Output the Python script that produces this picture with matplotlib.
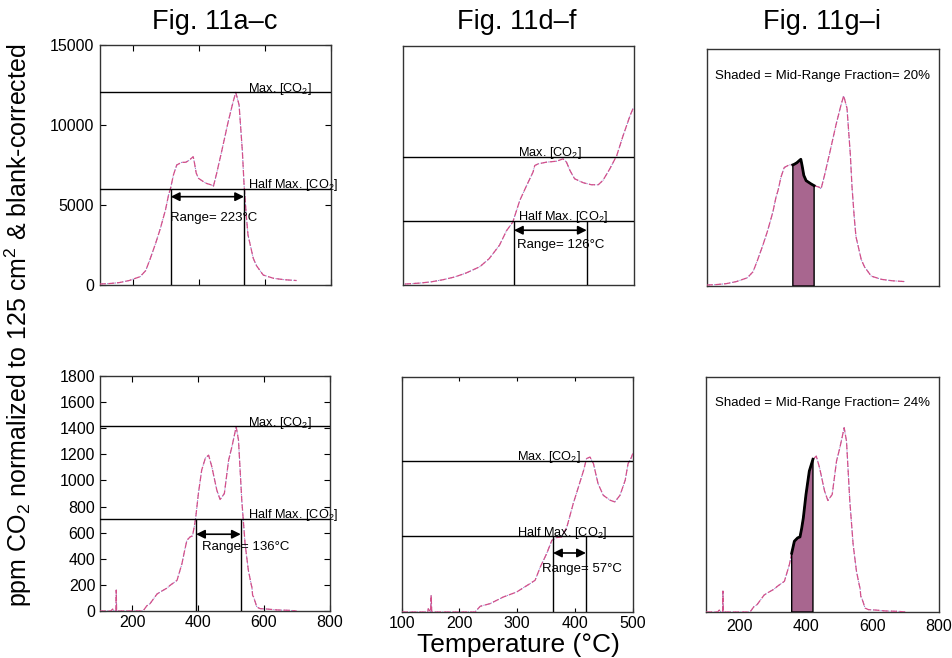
import numpy as np
import matplotlib
matplotlib.use("Agg")
import matplotlib.pyplot as plt

plt.rcParams['font.family'] = ['Liberation Sans', 'DejaVu Sans']
plt.rcParams['mathtext.fontset'] = 'custom'
plt.rcParams['mathtext.rm'] = 'Liberation Sans'
plt.rcParams['mathtext.it'] = 'Liberation Sans:italic'

# ---------------- data ----------------
# Sample of Fig. 11a-c / 11g (upper row, left & right)
temp_a = [100, 130, 160, 190, 223, 240, 253, 270, 284, 300, 309, 316, 324, 334, 349,
          360, 364, 372, 380, 384, 388, 393, 400, 415, 424, 440, 445, 455, 470, 490, 505,
          513, 523, 533, 538, 545, 550, 566, 576, 596, 627, 660, 697]
co2_a = [60, 90, 150, 280, 520, 900, 1600, 2600, 3500, 4700, 5600, 6100, 6875, 7500, 7667,
         7667, 7700, 7800, 7950, 8020, 7600, 7000, 6667, 6458, 6350, 6250, 6150, 6979, 8333, 10208, 11458,
         12040, 11250, 8333, 6300, 4300, 3125, 1667, 1200, 625, 420, 330, 280]

# Sample of Fig. 11d (upper row, middle)
temp_d = [104, 130, 150, 170, 190, 210, 234, 250, 268, 280, 291, 303, 315, 326, 329, 335,
          349, 367, 378, 384, 390, 398, 413, 427, 439, 447, 459, 471, 482, 494, 500]
co2_d = [60, 120, 200, 330, 500, 750, 1150, 1650, 2500, 3400, 3950, 5300, 6250, 7083, 7500, 7604,
         7708, 7771, 7917, 7708, 7187, 6667, 6417, 6292, 6292, 6562, 7292, 8125, 9375, 10625, 11146]

# Sample of Fig. 11b-c / 11h-i (lower row, left & right)
temp_b = [100, 135, 140, 145, 150, 151, 152, 160, 200, 229, 234, 244, 254, 275, 285, 305,
          315, 336, 351, 358, 366, 376, 383, 388, 393, 401, 411, 422, 432, 442, 457, 467,
          480, 493, 503, 516, 523, 533, 543, 553, 562, 564, 566, 569, 579, 589, 610, 640, 680, 700]
co2_b = [0, 0, 15, 0, 0, 160, 0, 0, 0, 0, 5, 40, 57, 130, 146, 175,
         197, 235, 363, 450, 542, 568, 575, 640, 720, 900, 1079, 1170, 1194, 1104, 926, 854,
         900, 1156, 1258, 1411, 1309, 849, 517, 312, 200, 180, 120, 107, 30, 18, 15, 8, 5, 0]

# Sample of Fig. 11e-f (lower row, middle)
temp_e = [100, 140, 145, 146, 150, 151, 152, 160, 200, 227, 236, 253, 276, 299, 322, 331,
          340, 351, 360, 368, 377, 386, 397, 406, 415, 420, 426, 432, 440, 449, 461, 469,
          478, 487, 492, 495, 498, 500]
co2_e = [0, 0, 0, 25, 0, 128, 0, 0, 0, 0, 44, 64, 115, 153, 217, 243,
         345, 447, 549, 570, 575, 651, 830, 957, 1085, 1175, 1187, 1137, 983, 894, 856, 843,
         894, 1009, 1137, 1160, 1187, 1213]

col_titles = ["Fig. 11a\u2013c", "Fig. 11d\u2013f", "Fig. 11g\u2013i"]

# Max / half max / range annotations
max_a, half_a, range_a = 12050, 6025, (316, 538)
max_d, half_d, range_d = 8050, 4025, (293, 419)
max_b, half_b, range_b = 1415, 707, (394, 530)
max_e, half_e, range_e = 1160, 580, (362, 419)
range_labels = ["Range= 223\u00b0C", "Range= 126\u00b0C", "Range= 136\u00b0C", "Range= 57\u00b0C"]

shade_top = (360, 424)
shade_bot = (358, 422)
shade_labels = ["Shaded = Mid-Range Fraction= 20%", "Shaded = Mid-Range Fraction= 24%"]

# ---------------- figure ----------------
W, H = 952, 658
fig = plt.figure(figsize=(W / 100, H / 100), dpi=100)


def ax_at(x0, y0, x1, y1):
    return fig.add_axes([x0 / W, 1 - y1 / H, (x1 - x0) / W, (y1 - y0) / H])


CURVE_PINK = '#d4508a'
CURVE_BLUE = '#7a7ad0'
FILL = '#a8668f'


def curve(ax, t, v):
    ax.plot(t, v, color=CURVE_BLUE, lw=0.7, ls=':', zorder=2)
    ax.plot(t, v, color=CURVE_PINK, lw=0.9, ls=(0, (5, 2)), zorder=3)


def frame(ax):
    for s in ax.spines.values():
        s.set_color('#333333')
        s.set_linewidth(1.0)


def annotate_range(ax, mx, half, rng, label, xtext, yarrow, xlab, ytext):
    ax.axhline(mx, color='black', lw=1.0, zorder=4)
    ax.axhline(half, color='black', lw=1.0, zorder=4)
    ax.vlines(list(rng), 0, half, color='black', lw=1.0, zorder=4)
    ax.annotate(r'Max. [CO$_2$]', (xlab, mx), xytext=(0, 0.5), textcoords='offset points',
                ha='left', va='baseline', fontsize=9.2, zorder=5)
    ax.annotate(r'Half Max. [CO$_2$]', (xlab, half), xytext=(0, 0.5), textcoords='offset points',
                ha='left', va='baseline', fontsize=9.2, zorder=5)
    ax.annotate('', xy=(rng[0], yarrow), xytext=(rng[1], yarrow),
                arrowprops=dict(arrowstyle='<|-|>', color='black', lw=1.2,
                                mutation_scale=13, shrinkA=0, shrinkB=0), zorder=5)
    ax.text(xtext, ytext, label, ha='left', va='center', fontsize=9.5, zorder=5)


TICK_FS = 11.5

# Top-left
ax1 = ax_at(99.5, 45, 330.5, 285)
curve(ax1, temp_a, co2_a)
ax1.set_xlim(100, 800)
ax1.set_ylim(0, 15000)
ax1.set_yticks([0, 5000, 10000, 15000])
ax1.set_xticks([200, 400, 600, 800])
ax1.tick_params(direction='in', top=True, right=True, labelbottom=False, labelsize=TICK_FS, length=4, pad=4)
annotate_range(ax1, max_a, half_a, range_a, range_labels[0], 314, 5520, 550, 4190)
frame(ax1)

# Top-middle
ax2 = ax_at(402.5, 46, 633.5, 285)
curve(ax2, temp_d, co2_d)
ax2.set_xlim(100, 500)
ax2.set_ylim(0, 15000)
ax2.set_xticks([])
ax2.set_yticks([])
annotate_range(ax2, max_d, half_d, range_d, range_labels[1], 298, 3437, 300, 2500)
frame(ax2)

# Top-right
ax3 = ax_at(706.5, 49, 939, 286)
curve(ax3, temp_a, co2_a)
ta = np.array(temp_a)
va = np.array(co2_a)
m = (ta >= shade_top[0]) & (ta <= shade_top[1])
xs, ys = ta[m], va[m]
ax3.fill(np.r_[xs[0], xs, xs[-1]], np.r_[0, ys, 0], facecolor=FILL, edgecolor='black', lw=1.0, zorder=4)
ax3.plot(xs, ys, color='black', lw=2.0, zorder=5)
ax3.set_xlim(100, 800)
ax3.set_ylim(0, 15000)
ax3.set_xticks([])
ax3.set_yticks([])
ax3.text(0.5, 0.886, shade_labels[0], transform=ax3.transAxes, ha='center', va='center', fontsize=9.5)
frame(ax3)

# Bottom-left
ax4 = ax_at(99.5, 376, 329.5, 611)
curve(ax4, temp_b, co2_b)
ax4.set_xlim(100, 800)
ax4.set_ylim(0, 1800)
ax4.set_yticks(np.arange(0, 1801, 200))
ax4.set_xticks([200, 400, 600, 800])
ax4.tick_params(direction='in', top=True, right=True, labelsize=TICK_FS, length=4, pad=3)
annotate_range(ax4, max_b, half_b, range_b, range_labels[2], 411, 588, 553, 491)
frame(ax4)

# Bottom-middle
ax5 = ax_at(401.7, 377, 632.7, 612)
curve(ax5, temp_e, co2_e)
ax5.set_xlim(100, 500)
ax5.set_ylim(0, 1800)
ax5.set_xticks([100, 200, 300, 400, 500])
ax5.set_yticks([])
ax5.tick_params(direction='in', top=True, labelsize=TICK_FS, length=3, pad=3)
annotate_range(ax5, max_e, half_e, range_e, range_labels[3], 343.5, 452, 300, 332)
frame(ax5)

# Bottom-right
ax6 = ax_at(706, 377, 938.5, 612)
curve(ax6, temp_b, co2_b)
tb = np.array(temp_b)
vb = np.array(co2_b)
m = (tb >= shade_bot[0]) & (tb <= shade_bot[1])
xs, ys = tb[m], vb[m]
ax6.fill(np.r_[xs[0], xs, xs[-1]], np.r_[0, ys, 0], facecolor=FILL, edgecolor='black', lw=1.0, zorder=4)
ax6.plot(xs, ys, color='black', lw=2.0, zorder=5)
ax6.set_xlim(100, 800)
ax6.set_ylim(0, 1800)
ax6.set_xticks([200, 400, 600, 800])
ax6.set_yticks([])
ax6.tick_params(direction='in', labelsize=TICK_FS, length=0, pad=5)
ax6.text(0.5, 0.888, shade_labels[1], transform=ax6.transAxes, ha='center', va='center', fontsize=9.5)
frame(ax6)

# Column titles
for xc, t in zip([215, 517, 822], col_titles):
    fig.text(xc / W, 1 - 22 / H, t, ha='center', va='center', fontsize=19.5)

fig.text(18 / W, 1 - 325 / H, r'ppm CO$_2$ normalized to 125 cm$^2$ & blank-corrected',
         rotation=90, ha='center', va='center', fontsize=18)
fig.text(518 / W, 1 - 645 / H, 'Temperature (\u00b0C)', ha='center', va='center', fontsize=19)

fig.savefig('out.png', dpi=100, facecolor='white')
